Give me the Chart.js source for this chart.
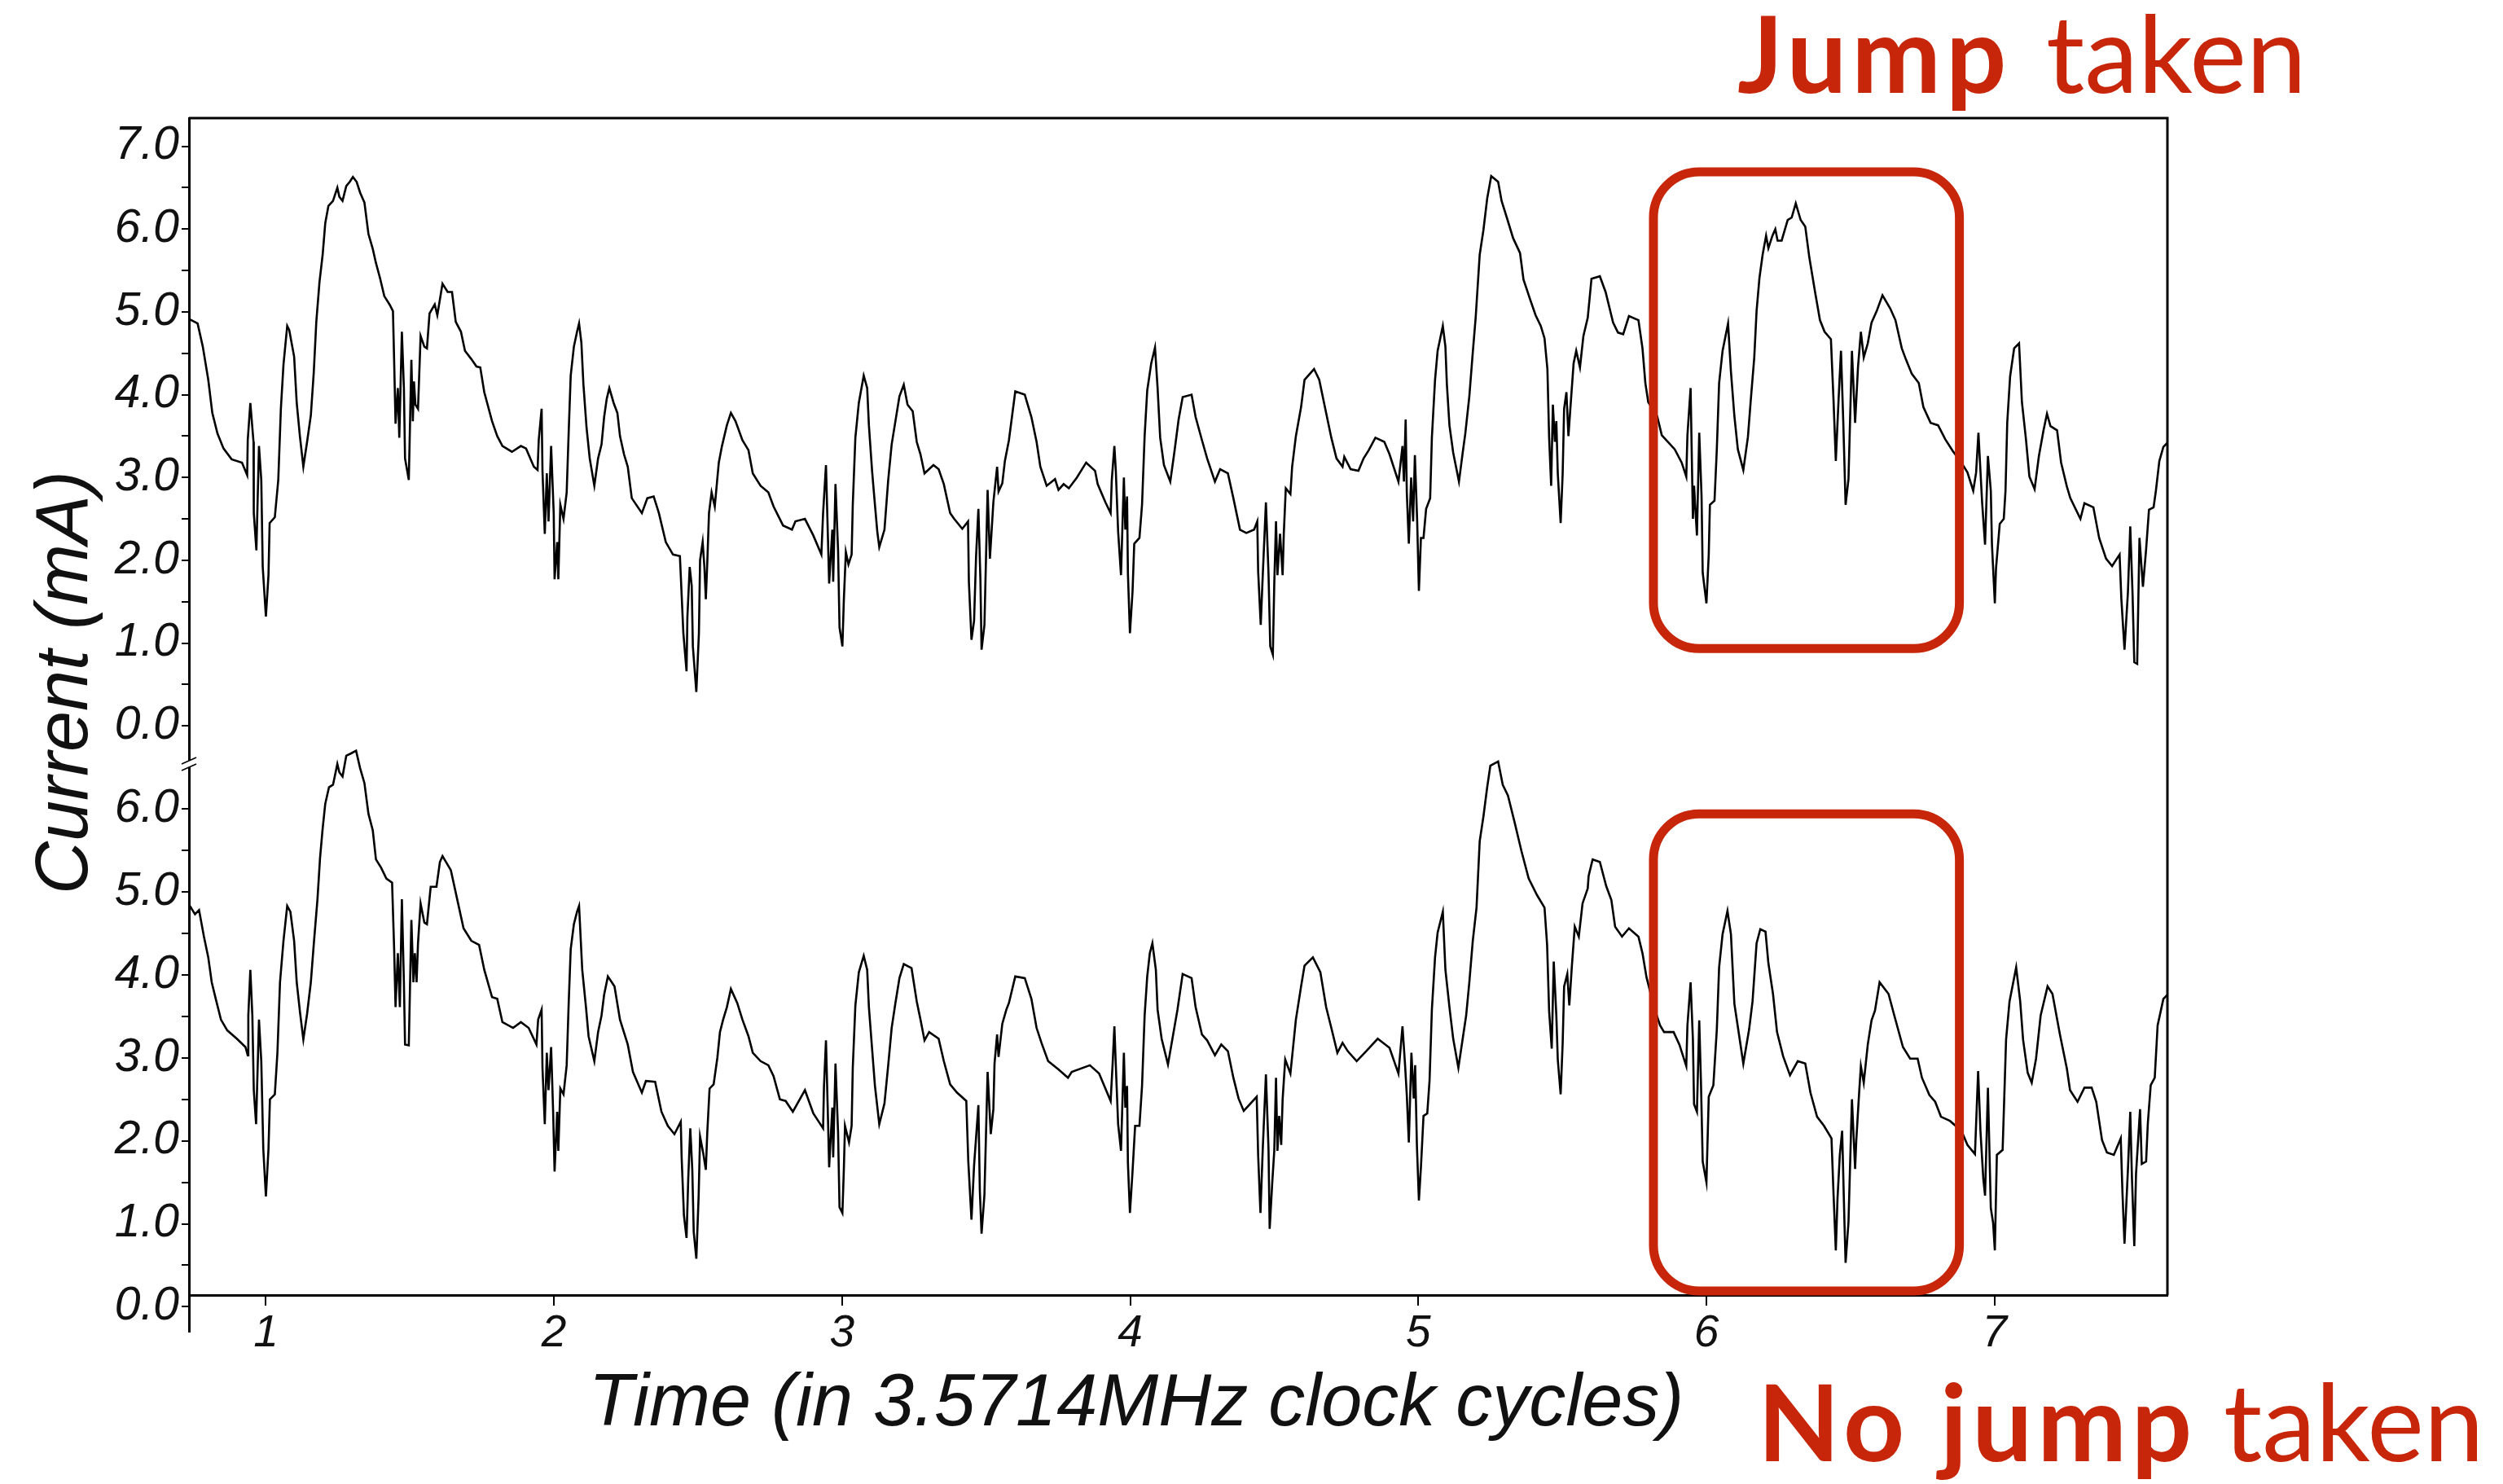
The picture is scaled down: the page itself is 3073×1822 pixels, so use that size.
<!DOCTYPE html>
<html>
<head>
<meta charset="utf-8">
<title>Current trace</title>
<script src="https://cdn.jsdelivr.net/npm/chart.js@4"></script>
<style>
	html, body { margin: 0; padding: 0; background: #fff; }
	canvas { display: block; }
</style>
</head>
<body>
<canvas id="chart" width="3073" height="1822"></canvas>
<script>
// DATA: [time in clock cycles, current in mA]
const jumpTaken = [
	[.736,4.91],[.763,4.86],[.781,4.58],[.80,4.18],[.814,3.78],[.832,3.53],[.853,3.35],[.881,3.22],[.917,3.18],[.935,3.03],[.937,3.45],[.946,3.90],[.957,3.43],[.958,2.57],[.967,2.12],[.976,3.38],[.984,2.97],[.989,1.92],[1.0,1.32],[1.009,1.82],[1.013,2.45],[1.031,2.52],[1.043,2.97],[1.052,3.83],[1.061,4.36],[1.074,4.83],[1.081,4.78],[1.098,4.46],[1.107,3.90],[1.118,3.50],[1.130,3.13],[1.143,3.43],[1.156,3.75],[1.166,4.26],[1.175,4.88],[1.186,5.36],[1.197,5.69],[1.206,6.07],[1.217,6.28],[1.233,6.34],[1.248,6.50],[1.255,6.39],[1.266,6.34],[1.279,6.52],[1.291,6.57],[1.302,6.63],[1.315,6.57],[1.327,6.44],[1.342,6.32],[1.356,5.94],[1.371,5.76],[1.382,5.59],[1.396,5.41],[1.411,5.19],[1.429,5.09],[1.441,5.01],[1.445,4.43],[1.45,3.65],[1.458,4.08],[1.463,3.48],[1.472,4.76],[1.479,4.08],[1.483,3.23],[1.496,2.97],[1.505,4.42],[1.51,3.68],[1.514,4.16],[1.519,3.88],[1.528,3.83],[1.537,4.71],[1.55,4.58],[1.559,4.56],[1.568,4.98],[1.586,5.09],[1.595,4.96],[1.613,5.34],[1.631,5.24],[1.646,5.24],[1.659,4.88],[1.677,4.76],[1.691,4.53],[1.713,4.43],[1.731,4.34],[1.744,4.33],[1.758,4.03],[1.785,3.68],[1.803,3.50],[1.821,3.38],[1.854,3.31],[1.885,3.38],[1.903,3.35],[1.93,3.13],[1.943,3.09],[1.947,3.45],[1.957,3.83],[1.96,3.08],[1.968,2.32],[1.975,3.05],[1.981,2.47],[1.99,3.38],[1.999,2.57],[2.002,1.77],[2.011,2.22],[2.015,1.77],[2.022,2.67],[2.033,2.5],[2.044,2.82],[2.051,3.55],[2.058,4.23],[2.069,4.58],[2.08,4.76],[2.087,4.86],[2.095,4.63],[2.102,4.13],[2.113,3.60],[2.124,3.23],[2.14,2.90],[2.153,3.23],[2.165,3.40],[2.174,3.73],[2.183,3.95],[2.192,4.08],[2.207,3.90],[2.22,3.78],[2.229,3.50],[2.243,3.28],[2.256,3.13],[2.27,2.75],[2.305,2.57],[2.324,2.75],[2.346,2.77],[2.364,2.57],[2.388,2.22],[2.413,2.07],[2.437,2.05],[2.44,1.82],[2.449,1.12],[2.46,0.66],[2.463,1.32],[2.471,1.92],[2.478,1.69],[2.482,0.96],[2.494,0.41],[2.503,1.12],[2.507,2.0],[2.516,2.22],[2.522,1.92],[2.527,1.53],[2.532,1.97],[2.538,2.57],[2.547,2.82],[2.558,2.65],[2.572,3.18],[2.583,3.38],[2.6,3.63],[2.614,3.78],[2.63,3.68],[2.654,3.45],[2.675,3.33],[2.69,3.05],[2.717,2.90],[2.744,2.82],[2.762,2.65],[2.795,2.42],[2.826,2.37],[2.838,2.47],[2.871,2.50],[2.9,2.30],
	[2.928,2.07],[2.934,2.57],[2.944,3.15],[2.95,2.37],[2.955,1.72],[2.966,2.37],[2.969,1.74],[2.977,2.92],[2.986,2.12],[2.991,1.19],[3.001,0.96],[3.006,1.52],[3.013,2.10],[3.022,1.95],[3.033,2.07],[3.037,2.67],[3.046,3.48],[3.058,3.90],[3.075,4.23],[3.087,4.08],[3.093,3.63],[3.104,3.08],[3.114,2.67],[3.122,2.35],[3.129,2.16],[3.147,2.37],[3.16,2.97],[3.172,3.40],[3.185,3.68],[3.199,3.98],[3.214,4.12],[3.227,3.88],[3.245,3.80],[3.259,3.43],[3.272,3.28],[3.286,3.05],[3.317,3.15],[3.335,3.10],[3.353,2.92],[3.375,2.57],[3.389,2.50],[3.417,2.38],[3.437,2.47],[3.44,1.74],[3.449,1.04],[3.458,1.27],[3.465,2.05],[3.473,2.62],[3.48,1.77],[3.484,0.92],[3.494,1.22],[3.505,2.85],[3.513,2.02],[3.525,2.70],[3.538,3.13],[3.543,2.83],[3.556,2.93],[3.565,3.20],[3.579,3.45],[3.601,4.04],[3.634,4.00],[3.657,3.73],[3.675,3.43],[3.688,3.13],[3.71,2.90],[3.739,2.98],[3.751,2.85],[3.769,2.92],[3.787,2.87],[3.815,3.0],[3.847,3.18],[3.878,3.08],[3.887,2.92],[3.914,2.70],[3.932,2.57],[3.936,2.97],[3.945,3.38],[3.95,3.08],[3.958,2.35],[3.968,1.82],[3.978,3.0],[3.983,2.37],[3.989,2.77],[3.992,1.84],[3.999,1.12],[4.008,1.62],[4.014,2.20],[4.032,2.27],[4.041,2.67],[4.05,3.50],[4.059,4.05],[4.073,4.38],[4.086,4.57],[4.095,4.08],[4.104,3.48],[4.117,3.15],[4.139,2.95],[4.153,3.30],[4.168,3.70],[4.182,3.97],[4.213,4.0],[4.227,3.73],[4.249,3.45],[4.267,3.23],[4.294,2.95],[4.312,3.10],[4.339,3.05],[4.358,2.75],[4.381,2.37],[4.403,2.33],[4.43,2.37],[4.441,2.47],[4.444,1.87],[4.453,1.22],[4.46,1.82],[4.471,2.70],[4.48,1.84],[4.486,0.96],[4.495,0.86],[4.5,1.72],[4.506,2.47],[4.511,1.82],[4.52,2.32],[4.529,1.82],[4.533,2.32],[4.54,2.87],[4.556,2.80],[4.562,3.13],[4.575,3.50],[4.593,3.85],[4.605,4.18],[4.638,4.31],[4.656,4.18],[4.68,3.78],[4.698,3.48],[4.716,3.23],[4.737,3.13],[4.743,3.25],[4.765,3.10],[4.792,3.08],[4.81,3.23],[4.828,3.33],[4.851,3.48],[4.882,3.43],[4.9,3.28],[4.931,2.95],[4.945,3.38],[4.95,2.95],[4.956,3.70],[4.96,2.82],[4.967,2.20],[4.975,3.0],[4.982,2.47],[4.988,3.27],[4.996,2.47],[5.002,1.63],[5.009,2.27],[5.018,2.27],[5.027,2.62],[5.041,2.75],[5.047,3.48],[5.058,4.18],[5.067,4.53],[5.085,4.83],[5.094,4.58],[5.099,4.13],[5.108,3.63],[5.121,3.30],[5.141,2.95],[5.154,3.30],[5.163,3.53],[5.177,3.98],[5.189,4.51],[5.199,4.93],[5.213,5.69],[5.226,5.99],[5.239,6.37],[5.253,6.64],[5.277,6.57],[5.289,6.34],[5.307,6.14],[5.329,5.89],[5.353,5.71],[5.365,5.39],[5.389,5.14],[5.407,4.96],[5.425,4.83],[5.438,4.68],[5.448,4.31],[5.454,3.48],[5.461,2.90],[5.467,3.88],[5.474,3.43],[5.479,3.68],[5.484,3.05],[5.494,2.45],[5.501,3.05],[5.506,3.83],[5.514,4.03],[5.521,3.50],[5.528,3.85],[5.539,4.38],[5.548,4.53],[5.561,4.33],[5.573,4.71],[5.588,4.93],
	[5.601,5.40],[5.63,5.43],[5.65,5.24],[5.676,4.87],[5.693,4.75],[5.711,4.73],[5.731,4.95],[5.764,4.90],[5.778,4.56],[5.788,4.14],[5.798,3.91],[5.829,3.74],[5.845,3.51],[5.89,3.34],[5.914,3.18],[5.93,3.01],[5.934,3.51],[5.945,4.08],[5.953,2.50],[5.957,2.90],[5.967,2.30],[5.975,3.54],[5.983,2.78],[5.987,1.85],[6.0,1.48],[6.008,2.07],[6.012,2.67],[6.028,2.72],[6.036,3.34],[6.044,4.14],[6.056,4.53],[6.075,4.86],[6.085,4.28],[6.097,3.74],[6.109,3.34],[6.128,3.09],[6.144,3.49],[6.154,3.94],[6.166,4.45],[6.174,5.01],[6.184,5.41],[6.195,5.69],[6.207,5.92],[6.215,5.77],[6.229,5.92],[6.239,6.0],[6.247,5.86],[6.261,5.86],[6.282,6.11],[6.296,6.14],[6.31,6.31],[6.327,6.11],[6.343,6.03],[6.357,5.66],[6.377,5.24],[6.394,4.90],[6.41,4.76],[6.432,4.67],[6.441,3.94],[6.449,3.20],[6.459,3.97],[6.467,4.53],[6.475,3.66],[6.483,2.67],[6.493,2.98],[6.505,4.53],[6.516,3.66],[6.526,4.33],[6.536,4.76],[6.546,4.45],[6.56,4.62],[6.573,4.87],[6.591,5.01],[6.611,5.20],[6.638,5.04],[6.656,4.90],[6.678,4.56],[6.693,4.42],[6.713,4.25],[6.737,4.14],[6.753,3.85],[6.778,3.66],[6.804,3.63],[6.829,3.46],[6.855,3.32],[6.885,3.18],[6.906,3.06],[6.926,2.84],[6.936,3.06],[6.944,3.54],[6.957,2.69],[6.967,2.19],[6.977,3.26],[6.987,2.84],[6.991,2.19],[7.001,1.48],[7.005,1.90],[7.018,2.44],[7.032,2.50],[7.038,2.84],[7.044,3.66],[7.054,4.22],[7.068,4.56],[7.085,4.62],[7.095,3.91],[7.109,3.46],[7.121,3.01],[7.139,2.86],[7.154,3.26],[7.17,3.57],[7.182,3.77],[7.194,3.62],[7.217,3.57],[7.231,3.18],[7.251,2.89],[7.263,2.75],[7.298,2.50],[7.312,2.69],[7.343,2.64],[7.363,2.27],[7.387,2.02],[7.408,1.93],[7.434,2.07],[7.44,1.54],[7.451,0.92],[7.463,1.62],[7.471,2.41],[7.479,1.59],[7.485,0.77],[7.495,0.75],[7.503,2.27],[7.515,1.68],[7.526,2.13],[7.536,2.61],[7.552,2.64],[7.56,2.84],[7.572,3.20],[7.586,3.37],[7.6,3.42]
];
const noJumpTaken = [
	[.736,4.83],[.754,4.73],[.768,4.78],[.785,4.46],[.80,4.21],[.812,3.91],[.826,3.71],[.844,3.46],[.866,3.33],[.899,3.23],[.929,3.13],[.937,3.03],[.939,3.51],[.946,4.06],[.953,3.51],[.958,2.61],[.966,2.20],[.976,3.46],[.984,2.96],[.991,1.90],[1.0,1.33],[1.009,1.90],[1.014,2.50],[1.031,2.56],[1.04,3.06],[1.049,3.91],[1.061,4.41],[1.074,4.83],[1.085,4.76],[1.098,4.41],[1.107,3.91],[1.118,3.56],[1.13,3.22],[1.143,3.53],[1.156,3.91],[1.166,4.36],[1.179,4.91],[1.188,5.41],[1.197,5.76],[1.206,6.06],[1.219,6.26],[1.233,6.29],[1.248,6.54],[1.255,6.44],[1.266,6.39],[1.279,6.64],[1.297,6.67],[1.313,6.70],[1.327,6.49],[1.342,6.31],[1.356,5.94],[1.371,5.74],[1.382,5.39],[1.4,5.29],[1.418,5.16],[1.438,5.11],[1.445,4.33],[1.45,3.61],[1.458,4.26],[1.465,3.61],[1.472,4.91],[1.479,3.91],[1.483,3.16],[1.496,3.15],[1.505,4.66],[1.512,3.91],[1.517,4.26],[1.523,3.91],[1.528,4.38],[1.537,4.86],[1.55,4.63],[1.559,4.61],[1.572,5.06],[1.592,5.06],[1.604,5.36],[1.613,5.43],[1.642,5.26],[1.664,4.91],[1.686,4.56],[1.713,4.41],[1.74,4.36],[1.758,4.06],[1.785,3.73],[1.803,3.71],[1.821,3.43],[1.858,3.36],[1.885,3.43],[1.912,3.36],[1.939,3.16],[1.945,3.46],[1.957,3.58],[1.96,2.88],[1.968,2.20],[1.975,3.06],[1.981,2.61],[1.99,3.13],[1.997,2.35],[2.002,1.63],[2.011,2.35],[2.015,1.88],[2.022,2.63],[2.033,2.56],[2.044,2.91],[2.051,3.66],[2.058,4.31],[2.069,4.61],[2.08,4.76],[2.087,4.83],[2.098,4.06],[2.111,3.61],[2.12,3.26],[2.14,2.96],[2.153,3.31],[2.165,3.51],[2.174,3.76],[2.187,3.98],[2.21,3.86],[2.229,3.46],[2.256,3.16],[2.274,2.83],[2.305,2.58],[2.319,2.72],[2.351,2.71],[2.373,2.35],[2.395,2.18],[2.418,2.08],[2.44,2.23],[2.443,1.80],[2.451,1.10],[2.46,0.83],[2.466,1.55],[2.473,2.15],[2.48,1.65],[2.485,0.90],[2.494,0.58],[2.502,1.33],[2.507,2.05],[2.518,1.85],[2.527,1.65],[2.532,2.10],[2.54,2.63],[2.554,2.68],[2.567,3.0],[2.576,3.31],[2.587,3.46],[2.6,3.61],[2.614,3.83],[2.636,3.66],[2.654,3.46],[2.675,3.26],[2.69,3.06],[2.717,2.96],[2.744,2.91],[2.762,2.78],[2.784,2.50],[2.804,2.48],[2.829,2.35],[2.871,2.61],[2.9,2.33],
	[2.934,2.15],[2.937,2.65],[2.944,3.21],[2.95,2.40],[2.955,1.68],[2.966,2.40],[2.969,1.80],[2.977,2.93],[2.986,2.10],[2.991,1.20],[3.001,1.13],[3.006,1.65],[3.01,2.18],[3.024,1.98],[3.033,2.18],[3.037,2.88],[3.046,3.63],[3.058,4.03],[3.075,4.23],[3.087,4.06],[3.093,3.61],[3.104,3.11],[3.114,2.66],[3.129,2.20],[3.147,2.45],[3.16,2.91],[3.172,3.36],[3.185,3.66],[3.199,3.96],[3.214,4.13],[3.241,4.08],[3.259,3.68],[3.272,3.46],[3.286,3.21],[3.302,3.31],[3.335,3.23],[3.353,2.96],[3.375,2.68],[3.399,2.58],[3.431,2.48],[3.438,1.75],[3.449,1.05],[3.458,1.70],[3.473,2.43],[3.478,1.40],[3.484,0.88],[3.494,1.35],[3.505,2.83],[3.516,2.08],[3.525,2.38],[3.529,2.93],[3.538,3.28],[3.543,3.01],[3.556,3.41],[3.57,3.58],[3.579,3.66],[3.601,3.98],[3.634,3.96],[3.657,3.71],[3.675,3.36],[3.692,3.18],[3.715,2.96],[3.751,2.86],[3.784,2.76],[3.797,2.83],[3.86,2.91],[3.892,2.81],[3.932,2.48],[3.939,2.93],[3.945,3.38],[3.95,2.91],[3.958,2.20],[3.968,1.88],[3.978,3.06],[3.983,2.40],[3.989,2.66],[3.992,1.73],[3.999,1.13],[4.008,1.63],[4.017,2.18],[4.032,2.18],[4.041,2.66],[4.05,3.51],[4.059,3.98],[4.068,4.26],[4.077,4.38],[4.089,4.06],[4.095,3.58],[4.109,3.23],[4.131,2.92],[4.149,3.28],[4.164,3.58],[4.182,4.01],[4.213,3.96],[4.227,3.61],[4.249,3.28],[4.267,3.21],[4.294,3.03],[4.316,3.16],[4.339,3.08],[4.358,2.76],[4.376,2.51],[4.394,2.36],[4.439,2.53],[4.444,1.83],[4.452,1.13],[4.46,1.90],[4.471,2.80],[4.48,1.90],[4.484,0.94],[4.493,1.50],[4.5,1.88],[4.506,2.76],[4.511,1.88],[4.517,2.30],[4.524,1.95],[4.529,2.50],[4.538,2.98],[4.556,2.81],[4.575,3.46],[4.593,3.86],[4.605,4.11],[4.634,4.21],[4.66,4.03],[4.68,3.61],[4.698,3.36],[4.719,3.06],[4.737,3.18],[4.755,3.08],[4.786,2.96],[4.819,3.08],[4.859,3.23],[4.9,3.12],[4.931,2.81],[4.945,3.38],[4.954,2.91],[4.96,2.55],[4.967,1.98],[4.976,3.06],[4.984,2.51],[4.989,2.91],[4.995,1.95],[5.002,1.28],[5.009,1.68],[5.018,2.30],[5.031,2.33],[5.039,2.73],[5.047,3.58],[5.058,4.21],[5.067,4.51],[5.085,4.76],[5.094,4.06],[5.108,3.61],[5.121,3.23],[5.139,2.88],[5.154,3.23],[5.166,3.51],[5.177,3.91],[5.189,4.41],[5.202,4.81],[5.213,5.61],[5.226,5.91],[5.239,6.26],[5.25,6.52],[5.277,6.57],[5.293,6.29],[5.311,6.16],[5.334,5.84],[5.358,5.49],[5.383,5.16],[5.412,4.96],[5.438,4.81],[5.447,4.36],[5.454,3.56],[5.463,3.11],[5.47,4.16],[5.479,3.51],[5.484,2.98],[5.494,2.56],[5.501,3.18],[5.506,3.86],[5.517,4.01],[5.524,3.63],[5.533,4.11],[5.543,4.58],[5.557,4.46],[5.57,4.86],[5.588,5.04],
	[5.591,5.19],[5.605,5.39],[5.63,5.36],[5.652,5.07],[5.67,4.90],[5.683,4.58],[5.707,4.46],[5.731,4.56],[5.764,4.46],[5.778,4.26],[5.792,3.97],[5.819,3.60],[5.839,3.39],[5.853,3.31],[5.886,3.31],[5.906,3.16],[5.93,2.90],[5.934,3.39],[5.945,3.91],[5.953,3.22],[5.957,2.44],[5.967,2.35],[5.975,3.45],[5.981,2.70],[5.987,1.75],[6.0,1.50],[6.008,2.53],[6.024,2.67],[6.036,3.34],[6.044,4.09],[6.056,4.49],[6.073,4.77],[6.085,4.49],[6.097,3.65],[6.113,3.28],[6.128,2.93],[6.148,3.34],[6.16,3.68],[6.174,4.38],[6.187,4.55],[6.205,4.52],[6.215,4.14],[6.231,3.77],[6.245,3.31],[6.266,3.02],[6.29,2.79],[6.317,2.96],[6.343,2.93],[6.361,2.58],[6.384,2.29],[6.408,2.18],[6.434,2.03],[6.441,1.37],[6.449,0.68],[6.455,1.31],[6.463,1.83],[6.471,2.12],[6.479,1.02],[6.483,0.53],[6.493,1.02],[6.505,2.50],[6.516,1.66],[6.52,2.0],[6.53,2.58],[6.536,2.90],[6.546,2.70],[6.56,3.16],[6.573,3.45],[6.585,3.57],[6.601,3.91],[6.632,3.77],[6.652,3.51],[6.682,3.13],[6.707,2.99],[6.733,2.99],[6.748,2.76],[6.774,2.55],[6.794,2.47],[6.814,2.29],[6.845,2.24],[6.885,2.12],[6.906,1.95],[6.932,1.84],[6.943,2.84],[6.951,2.12],[6.961,1.54],[6.967,1.34],[6.977,2.64],[6.987,1.19],[6.995,1.01],[7.001,0.68],[7.008,1.83],[7.028,1.89],[7.04,3.22],[7.052,3.68],[7.075,4.09],[7.089,3.68],[7.099,3.22],[7.115,2.82],[7.129,2.70],[7.144,2.99],[7.16,3.51],[7.184,3.86],[7.201,3.77],[7.227,3.28],[7.251,2.87],[7.262,2.61],[7.288,2.47],[7.312,2.64],[7.337,2.64],[7.353,2.47],[7.373,2.01],[7.39,1.86],[7.414,1.83],[7.438,2.03],[7.444,1.37],[7.451,0.76],[7.463,1.66],[7.471,2.35],[7.477,1.54],[7.485,0.73],[7.491,1.60],[7.505,2.38],[7.511,1.72],[7.526,1.75],[7.532,2.21],[7.542,2.67],[7.556,2.76],[7.566,3.39],[7.586,3.71],[7.6,3.76]
];
const timeTicks = [1, 2, 3, 4, 5, 6, 7];
const jumpCurrentTicks = [0, .5, 1, 1.5, 2, 2.5, 3, 3.5, 4, 4.5, 5, 5.5, 6, 6.5, 7];
const noJumpCurrentTicks = [0, .5, 1, 1.5, 2, 2.5, 3, 3.5, 4, 4.5, 5, 5.5, 6];

const RED = "#c8260a";
const AXIS_FONT = "Liberation Sans";

function setTicks(values) {
	return scale => { scale.ticks = values.map(value => ({value: value})); };
}

function currentAxis(values, min, max, weight) {
	return {
		type: "linear",
		position: "left",
		stack: "current",
		stackWeight: weight,
		min: min,
		max: max,
		afterBuildTicks: setTicks(values),
		afterFit: scale => { scale.width = 232; },
		border: {display: true, color: "#000", width: 3},
		grid: {drawOnChartArea: false, color: "#000", lineWidth: 2, tickLength: 9},
		ticks: {
			autoSkip: false,
			padding: 3,
			color: "#111",
			font: {family: AXIS_FONT, style: "italic", size: 57},
			callback: value => Number.isInteger(value) ? value.toFixed(1) : ""
		}
	};
}

function roundedBox(ctx, chart, yId, t0, t1, c0, c1) {
	const x = chart.scales.x;
	const y = chart.scales[yId];
	const left = x.getPixelForValue(t0);
	const right = x.getPixelForValue(t1);
	const top = y.getPixelForValue(c1);
	const bottom = y.getPixelForValue(c0);
	ctx.beginPath();
	ctx.roundRect(left, top, right - left, bottom - top, 56);
	ctx.stroke();
}

function redLabel(ctx, bold, boldX, light, lightX, baseline) {
	ctx.fillStyle = RED;
	ctx.textAlign = "left";
	ctx.textBaseline = "alphabetic";
	ctx.letterSpacing = "6px";
	ctx.font = "700 131px Lato";
	ctx.fillText(bold, boldX, baseline);
	ctx.letterSpacing = "0px";
	ctx.font = "400 132px Lato";
	ctx.fillText(light, lightX, baseline);
}

// frame, axis break, axis titles and the red call-outs
const overlayPlugin = {
	id: "overlay",
	beforeDatasetsDraw(chart) {
		const ctx = chart.ctx;
		const {top, left, right} = chart.chartArea;
		const axisY = chart.scales.yBottom.getPixelForValue(.14);
		ctx.save();
		ctx.strokeStyle = "#000";
		ctx.lineWidth = 3;
		ctx.beginPath();
		ctx.moveTo(left, top);
		ctx.lineTo(right, top);
		ctx.lineTo(right, axisY);
		ctx.stroke();
		ctx.restore();
	},
	afterDatasetsDraw(chart) {
		const ctx = chart.ctx;
		const {left} = chart.chartArea;
		const breakY = chart.scales.yBottom.top;
		ctx.save();

		// axis break
		ctx.strokeStyle = "#fff";
		ctx.lineWidth = 7;
		ctx.beginPath();
		ctx.moveTo(left - 8, breakY + 4);
		ctx.lineTo(left + 8, breakY - 4);
		ctx.stroke();
		ctx.strokeStyle = "#000";
		ctx.lineWidth = 1.5;
		[-4, 4].forEach(d => {
			ctx.beginPath();
			ctx.moveTo(left - 9, breakY + 4 + d);
			ctx.lineTo(left + 9, breakY - 4 + d);
			ctx.stroke();
		});

		// axis titles
		ctx.fillStyle = "#111";
		ctx.textAlign = "center";
		ctx.textBaseline = "middle";
		ctx.font = `italic 90px ${AXIS_FONT}`;
		ctx.fillText("Time (in 3.5714MHz clock cycles)", 1395, 1725);
		ctx.save();
		ctx.translate(82, 838);
		ctx.rotate(-Math.PI / 2);
		ctx.fillText("Current (mA)", 0, 0);
		ctx.restore();

		// call-outs
		ctx.strokeStyle = RED;
		ctx.lineWidth = 11;
		roundedBox(ctx, chart, "yTop", 5.816, 6.878, .935, 6.69);
		roundedBox(ctx, chart, "yBottom", 5.816, 6.878, .19, 5.94);
		redLabel(ctx, "Jump", 2133, "taken", 2512, 114);
		redLabel(ctx, "No jump", 2158, "taken", 2730, 1794);
		ctx.restore();
	}
};

function traceDataset(trace, axisId) {
	return {
		data: trace.map(p => ({x: p[0], y: p[1]})),
		yAxisID: axisId,
		borderColor: "#000",
		borderWidth: 2.6,
		pointRadius: 0,
		tension: 0,
		clip: false
	};
}

new Chart(document.getElementById("chart"), {
	type: "line",
	data: {
		datasets: [traceDataset(jumpTaken, "yTop"), traceDataset(noJumpTaken, "yBottom")]
	},
	options: {
		responsive: false,
		animation: false,
		layout: {padding: {left: 0, top: 145, right: 412, bottom: 187}},
		plugins: {legend: {display: false}, tooltip: {enabled: false}, title: {display: false}},
		scales: {
			x: {
				type: "linear",
				position: {yBottom: .14},
				min: .733,
				max: 7.6,
				afterBuildTicks: setTicks(timeTicks),
				border: {display: true, color: "#000", width: 3},
				grid: {drawOnChartArea: false, color: "#000", lineWidth: 2, tickLength: 11},
				ticks: {
					autoSkip: false,
					maxRotation: 0,
					padding: 4,
					color: "#111",
					font: {family: AXIS_FONT, style: "italic", size: 55}
				}
			},
			yBottom: currentAxis(noJumpCurrentTicks, -.30, 6.54, 697),
			yTop: currentAxis(jumpCurrentTicks, -.46, 7.34, 793)
		}
	},
	plugins: [overlayPlugin]
});
</script>
</body>
</html>
